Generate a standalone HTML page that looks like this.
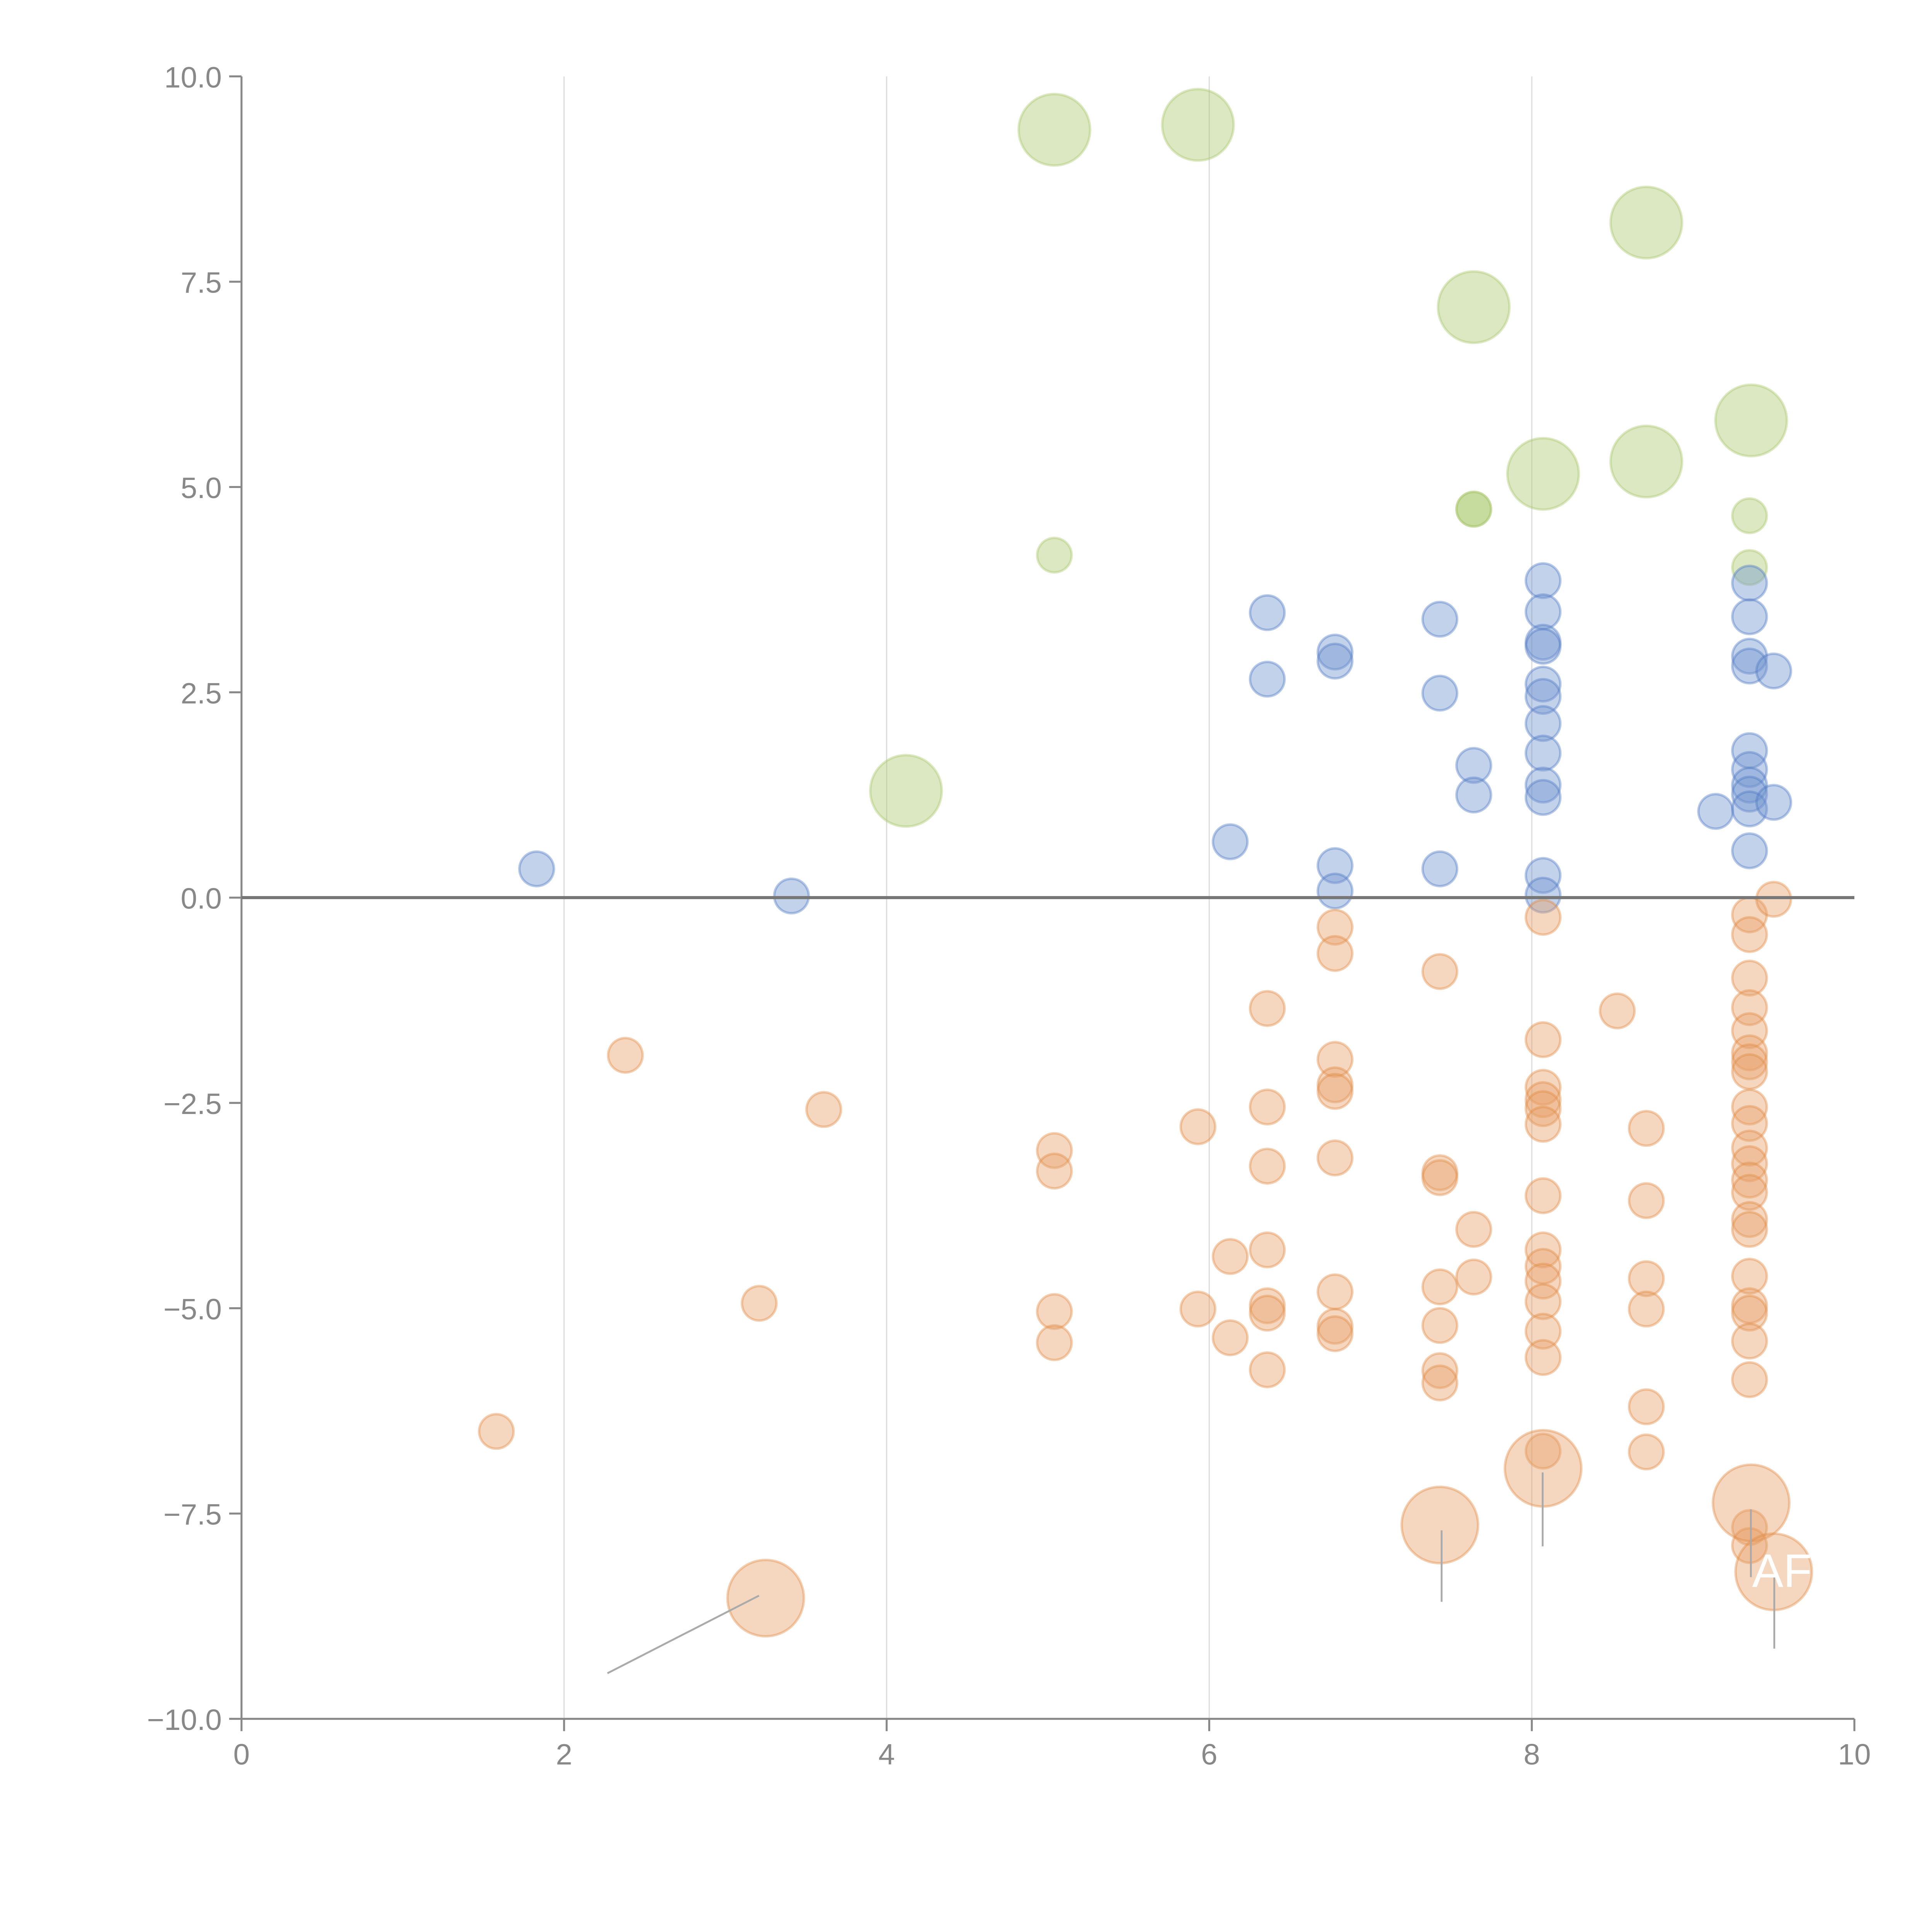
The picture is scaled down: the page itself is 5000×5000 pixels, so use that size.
<!DOCTYPE html>
<html><head><meta charset="utf-8"><style>html,body{margin:0;padding:0;background:#fff}svg{display:block}</style></head>
<body>
<svg id="chart" width="5000" height="5000" viewBox="0 0 1568 1568" xmlns="http://www.w3.org/2000/svg" font-family="Liberation Sans, sans-serif">
<g id="grid"></g>
<g id="axes"></g>
<g id="marks"></g>
</svg>
<script>
const xTicks=[0,2,4,6,8,10];
const yTicks=[-10,-7.5,-5,-2.5,0,2.5,5,7.5,10];
const blueX=[1.83,3.41,6.13,6.36,6.36,6.78,6.78,6.78,6.78,7.43,7.43,7.43,7.64,7.64,8.07,8.07,8.07,8.07,8.07,8.07,8.07,8.07,8.07,8.07,8.07,8.07,9.14,9.35,9.35,9.35,9.35,9.35,9.35,9.35,9.35,9.35,9.35,9.5,9.5];
const blueY=[0.35,0.02,0.68,3.47,2.66,2.99,2.88,0.39,0.08,3.39,2.49,0.35,1.61,1.25,3.86,3.48,3.11,3.06,2.6,2.45,2.12,1.76,1.37,1.22,0.27,0.03,1.05,3.83,3.42,2.94,2.82,1.79,1.56,1.37,1.26,1.08,0.57,2.76,1.16];
const orangeX=[1.58,2.38,3.21,3.61,5.04,5.04,5.04,5.04,5.93,5.93,6.13,6.13,6.36,6.36,6.36,6.36,6.36,6.36,6.36,6.78,6.78,6.78,6.78,6.78,6.78,6.78,6.78,6.78,7.43,7.43,7.43,7.43,7.43,7.43,7.43,7.64,7.64,8.07,8.07,8.07,8.07,8.07,8.07,8.07,8.07,8.07,8.07,8.07,8.07,8.07,8.07,8.53,8.71,8.71,8.71,8.71,8.71,8.71,9.35,9.35,9.35,9.35,9.35,9.35,9.35,9.35,9.35,9.35,9.35,9.35,9.35,9.35,9.35,9.35,9.35,9.35,9.35,9.35,9.35,9.35,9.35,9.5];
const orangeY=[-6.5,-1.92,-4.94,-2.58,-3.08,-3.33,-5.04,-5.42,-2.79,-5.01,-4.37,-5.36,-1.35,-2.55,-3.27,-4.29,-4.97,-5.06,-5.75,-0.36,-0.68,-1.97,-2.28,-2.36,-3.17,-4.8,-5.22,-5.31,-0.9,-3.35,-3.41,-4.74,-5.21,-5.76,-5.91,-4.04,-4.62,-0.24,-1.73,-2.31,-2.46,-2.57,-2.76,-3.63,-4.29,-4.49,-4.67,-4.92,-5.28,-5.6,-6.74,-1.38,-2.81,-3.69,-4.64,-5.01,-6.2,-6.75,-0.21,-0.45,-0.98,-1.34,-1.62,-1.89,-2.0,-2.12,-2.55,-2.75,-3.05,-3.24,-3.44,-3.59,-3.92,-4.04,-4.61,-4.97,-5.06,-5.4,-5.87,-7.67,-7.89,-0.02];
const bigOrangeX=[3.25,7.43,8.07,9.36,9.5];
const bigOrangeY=[-8.53,-7.64,-6.95,-7.37,-8.21];
const greenX=[5.04,5.93,8.71,7.64,9.36,8.07,8.71,7.64,7.64,9.35,9.35,5.04,4.12];
const greenY=[9.35,9.41,8.22,7.19,5.81,5.16,5.31,4.73,4.73,4.65,4.02,4.17,1.3];
const greenSize=[2,2,2,2,2,2,2,1,1,1,1,1,2];
const NS='http://www.w3.org/2000/svg';
const X0=196,X1=1505,Y0=1395,Y1=62;
const sx=v=>X0+(v-0)/10*(X1-X0);
const sy=v=>Y0-(v+10)/20*(Y0-Y1);
function mk(t,a,p){const e=document.createElementNS(NS,t);for(const k in a)e.setAttribute(k,a[k]);p.appendChild(e);return e;}
const grid=document.getElementById('grid'),axes=document.getElementById('axes'),marks=document.getElementById('marks');
xTicks.forEach(t=>{
 if(t>0&&t<10){const g=mk('line',{x1:sx(t),x2:sx(t),y1:Y1,y2:Y0,stroke:'#ddd','stroke-width':1},grid);
 
 }
 mk('line',{x1:sx(t),x2:sx(t),y1:Y0,y2:Y0+10,stroke:'#888','stroke-width':1.6},axes);
 const l=mk('text',{x:sx(t),y:Y0+37,'text-anchor':'middle','font-size':24,fill:'#888'},axes);l.textContent=t;
 
 
});
yTicks.forEach(t=>{
 mk('line',{x1:X0-10,x2:X0,y1:sy(t),y2:sy(t),stroke:'#888','stroke-width':1.6},axes);
 const l=mk('text',{x:X0-16,y:sy(t)+9,'text-anchor':'end','font-size':24,fill:'#888'},axes);l.textContent=(t<0?'\u2212':'')+Math.abs(t).toFixed(1);
 
 
});
const xa=mk('line',{x1:X0,x2:X1,y1:Y0,y2:Y0,stroke:'#888','stroke-width':1.6},axes);


const ya=mk('line',{x1:X0,x2:X0,y1:Y1,y2:Y0,stroke:'#888','stroke-width':1.6},axes);


function dot(x,y,r,fill,stroke,name){const c=mk('circle',{cx:sx(x),cy:sy(y),r:r,fill:fill,'fill-opacity':0.42,stroke:stroke,'stroke-opacity':0.4,'stroke-width':2},marks);
 
 }
greenX.forEach((x,i)=>dot(x,greenY[i],greenSize[i]==2?29:14,'#a9c76e','#a9c76e','green-bubble'));
blueX.forEach((x,i)=>dot(x,blueY[i],14,'#6f93cf','#4e79c4','blue-bubble'));
orangeX.forEach((x,i)=>dot(x,orangeY[i],14,'#e8a06a','#e08a40','orange-bubble'));
bigOrangeX.forEach((x,i)=>dot(x,bigOrangeY[i],31,'#e8a06a','#e08a40','orange-big-bubble'));
const zl=mk('line',{x1:X0,x2:X1,y1:sy(0),y2:sy(0),stroke:'#777','stroke-width':2.5},marks);


[[493,1358,616,1295],[1170,1242,1170,1300],[1252,1195,1252,1255],[1421,1225,1421,1280],[1440,1280,1440,1338]].forEach(s=>{
 const l=mk('line',{x1:s[0],y1:s[1],x2:s[2],y2:s[3],stroke:'#aaa','stroke-width':1.5},marks);
 
 
});
const lab=mk('text',{x:1422,y:1288,'font-size':38,fill:'#fff'},marks);lab.textContent='AF';


</script>
</body></html>
